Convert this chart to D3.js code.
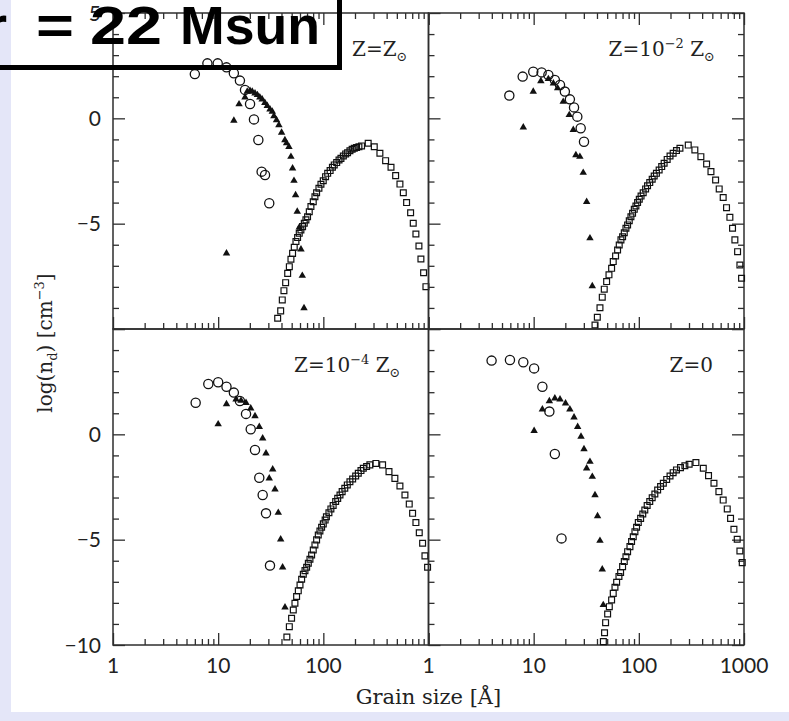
<!DOCTYPE html>
<html>
<head>
<meta charset="utf-8">
<script src="https://cdn.jsdelivr.net/npm/d3@7"></script>
<style>
  html, body { margin: 0; padding: 0; background: #fff; }
  svg { display: block; }
</style>
</head>
<body>
<svg id="chart" width="789" height="721"></svg>
<script>
// Grain size distributions [grain radius in Å, log(n_d) in cm^-3]
// Z = Z_sun
const solarCircles = [[6.0,2.10],[7.9,2.61],[9.9,2.61],[12.0,2.42],[14.1,2.14],[16.1,1.79],[18.0,1.35],[20.1,0.68],[21.9,-0.05],[24.1,-1.03],[25.9,-2.53],[27.9,-2.69],[30.6,-4.03]];
const solarTriangles = [[12.0,-6.41],[14.1,-0.11],[15.8,0.67],[18.0,1.00],[18.9,1.27],[20.1,1.31],[21.1,1.27],[22.4,1.19],[23.6,1.11],[24.9,1.00],[26.2,0.90],[27.8,0.74],[29.3,0.59],[31.1,0.43],[32.7,0.32],[33.9,0.11],[35.9,-0.08],[37.8,-0.32],[40.1,-0.68],[43.1,-1.03],[44.7,-1.18],[47.1,-1.35],[49.2,-1.82],[51.0,-2.37],[52.6,-2.96],[54.5,-3.64],[56.5,-4.43],[59.1,-5.17],[61.3,-6.22],[63.1,-7.47],[65.5,-9.01]];
const solarSquares = [[36.8,-9.49],[39.3,-9.14],[40.7,-8.62],[42.2,-8.18],[43.8,-7.80],[45.8,-7.36],[47.5,-7.04],[49.2,-6.69],[51.0,-6.41],[52.9,-6.12],[54.9,-5.85],[56.9,-5.66],[59.0,-5.46],[61.2,-5.30],[63.5,-5.14],[65.9,-4.98],[68.3,-4.82],[70.8,-4.67],[73.5,-4.43],[76.2,-4.19],[80.2,-3.96],[83.2,-3.72],[86.3,-3.53],[90.8,-3.32],[94.9,-3.13],[99.8,-2.96],[105,-2.77],[110,-2.61],[116,-2.48],[122,-2.32],[127,-2.21],[134,-2.10],[141,-1.98],[147,-1.90],[155,-1.79],[163,-1.69],[170,-1.63],[179,-1.54],[188,-1.47],[197,-1.42],[207,-1.38],[218,-1.35],[231,-1.31],[267,-1.18],[305,-1.35],[345,-1.66],[391,-2.01],[440,-2.32],[487,-2.72],[535,-3.12],[576,-3.53],[619,-4.00],[676,-4.48],[716,-4.98],[759,-5.49],[811,-6.06],[847,-6.68],[898,-7.33],[945,-7.99]];

// Z = 1e-2 Z_sun
const z2Circles = [[5.87,1.08],[7.86,1.98],[9.91,2.21],[11.9,2.18],[13.8,2.06],[15.9,1.82],[17.8,1.58],[19.8,1.27],[22.1,0.90],[24.2,0.52],[26.0,0.08],[28.0,-0.47],[30.1,-1.11]];
const z2Triangles = [[7.97,-0.43],[9.91,1.27],[11.7,1.77],[13.8,1.87],[15.4,1.66],[16.9,1.43],[19.1,0.79],[21.8,0.16],[23.8,-0.55],[25.2,-1.74],[27.5,-1.82],[29.6,-2.58],[31.9,-3.96],[34.3,-5.69],[36.1,-7.96]];
const z2Squares = [[38.3,-9.81],[40.3,-9.44],[42.7,-8.99],[44.9,-8.49],[46.9,-8.11],[49.4,-7.75],[52.0,-7.43],[55.1,-7.12],[57.1,-6.80],[60.1,-6.53],[62.8,-6.25],[65.1,-6.01],[67.6,-5.77],[70.1,-5.62],[72.7,-5.43],[75.4,-5.22],[78.2,-5.06],[81.1,-4.86],[84.1,-4.67],[87.2,-4.51],[90.5,-4.32],[93.8,-4.16],[97.3,-4.00],[101,-3.84],[105,-3.69],[110,-3.53],[116,-3.35],[121,-3.20],[127,-3.05],[134,-2.89],[140,-2.74],[147,-2.61],[156,-2.45],[165,-2.29],[174,-2.13],[186,-1.95],[198,-1.79],[212,-1.66],[228,-1.53],[246,-1.42],[295,-1.27],[341,-1.50],[389,-1.82],[441,-2.17],[485,-2.53],[537,-2.93],[581,-3.35],[634,-3.76],[682,-4.24],[734,-4.70],[778,-5.22],[819,-5.77],[869,-6.33],[914,-6.96],[948,-7.59]];

// Z = 1e-4 Z_sun
const z4Circles = [[6.11,1.50],[8.06,2.39],[10.0,2.47],[12.0,2.26],[14.1,1.98],[16.1,1.58],[18.4,0.97],[20.4,0.24],[22.4,-0.74],[24.6,-2.06],[26.5,-2.88],[28.5,-3.75],[31.1,-6.23]];
const z4Triangles = [[10.0,0.48],[12.0,1.44],[14.8,1.66],[16.5,1.60],[18.4,1.50],[20.4,1.23],[22.4,0.87],[24.6,0.36],[26.5,-0.19],[28.5,-0.90],[33.0,-1.66],[30.6,-2.09],[34.7,-2.61],[37.3,-3.72],[39.3,-4.98],[41.0,-6.31],[43.2,-8.21]];
const z4Squares = [[45.0,-9.62],[47.5,-9.13],[49.9,-8.73],[51.8,-8.34],[53.7,-8.02],[55.7,-7.70],[57.8,-7.43],[60.0,-7.15],[62.2,-6.88],[64.5,-6.64],[66.9,-6.47],[69.4,-6.31],[72.0,-6.12],[74.6,-5.93],[77.4,-5.73],[80.2,-5.49],[83.2,-5.25],[86.3,-5.01],[89.5,-4.78],[92.8,-4.59],[96.3,-4.41],[99.9,-4.25],[104,-4.07],[107,-3.91],[113,-3.72],[118,-3.54],[124,-3.38],[131,-3.19],[137,-3.04],[144,-2.88],[151,-2.72],[160,-2.56],[169,-2.40],[179,-2.25],[190,-2.12],[203,-1.98],[215,-1.85],[228,-1.72],[240,-1.61],[258,-1.53],[277,-1.45],[316,-1.38],[366,-1.45],[421,-1.77],[479,-2.09],[535,-2.45],[597,-2.88],[656,-3.31],[706,-3.75],[759,-4.19],[817,-4.67],[879,-5.17],[925,-5.77],[980,-6.31]];

// Z = 0
const z0Circles = [[3.98,3.50],[5.95,3.53],[7.97,3.42],[10.1,3.13],[12.1,2.26],[14.1,1.08],[15.9,-0.93],[18.4,-4.94]];
const z0Triangles = [[10.1,0.17],[12.1,1.19],[14.1,1.58],[15.9,1.71],[17.8,1.66],[20.1,1.47],[22.1,1.19],[24.2,0.81],[26.2,0.36],[28.2,-0.11],[30.1,-0.70],[31.9,-1.61],[34.3,-1.30],[36.1,-2.01],[38.3,-2.88],[40.5,-3.88],[42.7,-5.05],[44.9,-6.41],[45.9,-8.10]];
const z0Squares = [[46.0,-9.84],[47.2,-9.42],[48.3,-8.94],[50.5,-8.53],[52.4,-8.18],[55.1,-7.86],[57.1,-7.55],[59.3,-7.26],[61.5,-7.02],[64.7,-6.75],[67.1,-6.56],[70.1,-6.28],[72.7,-6.04],[75.4,-5.81],[78.2,-5.57],[82.3,-5.33],[85.3,-5.09],[88.5,-4.86],[91.8,-4.62],[95.2,-4.41],[98.8,-4.19],[104,-3.99],[109,-3.78],[114,-3.59],[120,-3.38],[127,-3.19],[134,-3.01],[142,-2.83],[151,-2.64],[161,-2.48],[171,-2.32],[184,-2.14],[198,-1.98],[212,-1.82],[228,-1.69],[249,-1.58],[274,-1.49],[301,-1.42],[349,-1.34],[410,-1.61],[460,-1.96],[518,-2.32],[577,-2.72],[634,-3.12],[693,-3.54],[745,-3.99],[802,-4.51],[862,-4.98],[914,-5.54],[962,-6.09]];

// Axis ranges and tick labels
const xDomain = [1, 1000];
const yDomain = [-10, 5];
const xTickMajor = [1, 10, 100, 1000];
const yTickMajor = [-10, -5, 0, 5];
const topYLabels = [5, 0, -5];
const bottomYLabels = [0, -5, -10];
const leftXLabels = [1, 10, 100];
const rightXLabels = [1, 10, 100, 1000];

// Minor ticks: 2..9 in every decade, every integer in log(n_d)
const xTickMinor = [];
[1, 10, 100].forEach(d => { for (let m = 2; m <= 9; m++) xTickMinor.push(m * d); });
const yTickMinor = d3.range(-10, 6).filter(v => v % 5 !== 0);

const W = 789, H = 721;
const L = 113, MX = 428.5, R = 744, T = 13, MY = 329, B = 645;
const ink = '#111';
const axisInk = '#2e2e2e';
const serif = '"DejaVu Serif", "Liberation Serif", serif';
const sans = 'Lato, "Open Sans", "Liberation Sans", sans-serif';

const svg = d3.select('#chart');
svg.append('rect').attr('width', W).attr('height', H).attr('fill', '#fff');
svg.append('rect').attr('x', 0).attr('y', 0).attr('width', 11).attr('height', H).attr('fill', '#e4e6f8');
svg.append('rect').attr('x', 0).attr('y', 712).attr('width', W).attr('height', H - 712).attr('fill', '#e4e6f8');

const fmt = d => d < 0 ? '\u2212' + Math.abs(d) : String(d);

const panels = [
  { col: 0, row: 0, circles: solarCircles, tris: solarTriangles, squares: solarSquares, inset: 21,
    label: [['Z=Z', 'base'], ['\u2299', 'sub']], yLabels: topYLabels, xLabels: [] },
  { col: 1, row: 0, circles: z2Circles, tris: z2Triangles, squares: z2Squares, inset: 29,
    label: [['Z=10', 'base'], ['\u22122', 'sup'], ['\u00a0Z', 'base'], ['\u2299', 'sub']], yLabels: [], xLabels: [] },
  { col: 0, row: 1, circles: z4Circles, tris: z4Triangles, squares: z4Squares, inset: 28,
    label: [['Z=10', 'base'], ['\u22124', 'sup'], ['\u00a0Z', 'base'], ['\u2299', 'sub']], yLabels: bottomYLabels, xLabels: leftXLabels },
  { col: 1, row: 1, circles: z0Circles, tris: z0Triangles, squares: z0Squares, inset: 31,
    label: [['Z=0', 'base']], yLabels: [], xLabels: rightXLabels }
];

function tickSet(g, axisFn, scale, values, size, transform) {
  const a = g.append('g').attr('transform', transform)
    .call(axisFn(scale).tickValues(values).tickSizeInner(-size).tickSizeOuter(0).tickFormat(''));
  a.select('.domain').remove();
  a.selectAll('text').remove();
  a.selectAll('line').attr('stroke', axisInk).attr('stroke-width', 1.3);
}

panels.forEach(p => {
  const x0 = p.col ? MX : L, x1 = p.col ? R : MX;
  const y0 = p.row ? MY : T, y1 = p.row ? B : MY;
  const x = d3.scaleLog().domain(xDomain).range([x0, x1]);
  const y = d3.scaleLinear().domain(yDomain).range([y1, y0]);
  const g = svg.append('g');

  // inward ticks: left and bottom always, top on the upper row, right on the right column
  tickSet(g, d3.axisBottom, x, xTickMajor, 12, `translate(0,${y1})`);
  tickSet(g, d3.axisBottom, x, xTickMinor, 6, `translate(0,${y1})`);
  tickSet(g, d3.axisLeft, y, yTickMajor, 12, `translate(${x0},0)`);
  tickSet(g, d3.axisLeft, y, yTickMinor, 6, `translate(${x0},0)`);
  if (p.row === 0) {
    tickSet(g, d3.axisTop, x, xTickMajor, 12, `translate(0,${y0})`);
    tickSet(g, d3.axisTop, x, xTickMinor, 6, `translate(0,${y0})`);
  }
  if (p.col === 1) {
    tickSet(g, d3.axisRight, y, yTickMajor, 12, `translate(${x1},0)`);
    tickSet(g, d3.axisRight, y, yTickMinor, 6, `translate(${x1},0)`);
  }

  g.append('rect').attr('x', x0).attr('y', y0).attr('width', x1 - x0).attr('height', y1 - y0)
    .attr('fill', 'none').attr('stroke', axisInk).attr('stroke-width', 1.5);

  // tick labels
  g.selectAll('.ylab').data(p.yLabels).join('text')
    .attr('x', x0 - 12).attr('y', d => y(d)).attr('dy', '0.36em')
    .attr('text-anchor', 'end').attr('font-family', sans).attr('font-size', 21)
    .attr('fill', '#222').text(fmt);
  g.selectAll('.xlab').data(p.xLabels).join('text')
    .attr('x', d => x(d)).attr('y', y1 + 28)
    .attr('text-anchor', 'middle').attr('font-family', sans).attr('font-size', 21)
    .attr('fill', '#222').text(fmt);

  // markers
  g.selectAll('.sq').data(p.squares).join('path')
    .attr('transform', d => `translate(${x(d[0])},${y(d[1])})`)
    .attr('d', d3.symbol(d3.symbolSquare, 34))
    .attr('fill', 'none').attr('stroke', ink).attr('stroke-width', 1.2);
  g.selectAll('.tri').data(p.tris).join('path')
    .attr('transform', d => `translate(${x(d[0])},${y(d[1])})`)
    .attr('d', d3.symbol(d3.symbolTriangle, 24))
    .attr('fill', ink);
  g.selectAll('.circ').data(p.circles).join('circle')
    .attr('cx', d => x(d[0])).attr('cy', d => y(d[1])).attr('r', 4.6)
    .attr('fill', 'none').attr('stroke', ink).attr('stroke-width', 1.3);

  // metallicity label
  const t = g.append('text').attr('x', x1 - p.inset).attr('y', y0 + 43)
    .attr('text-anchor', 'end').attr('font-family', serif).attr('font-size', 20).attr('fill', '#222');
  let shift = 0;
  p.label.forEach(([s, kind]) => {
    const target = kind === 'sup' ? -8 : kind === 'sub' ? 5 : 0;
    t.append('tspan').attr('dy', target - shift)
      .attr('font-size', kind === 'base' ? 20 : 13).text(s);
    shift = target;
  });
});

// axis titles
svg.append('text').attr('x', (L + R) / 2).attr('y', 704).attr('text-anchor', 'middle')
  .attr('font-family', serif).attr('font-size', 21).attr('fill', '#222').text('Grain size [\u00c5]');
const yt = svg.append('text').attr('transform', `translate(52,343) rotate(-90)`)
  .attr('text-anchor', 'middle').attr('font-family', serif).attr('font-size', 20).attr('fill', '#222');
yt.append('tspan').text('log(n');
yt.append('tspan').attr('dy', 5).attr('font-size', 13).text('d');
yt.append('tspan').attr('dy', -5).text(') [cm');
yt.append('tspan').attr('dy', -8).attr('font-size', 13).text('\u22123');
yt.append('tspan').attr('dy', 8).text(']');

// progenitor mass caption box
svg.append('rect').attr('x', -10).attr('y', -10).attr('width', 349.5).attr('height', 77.5)
  .attr('fill', 'none').attr('stroke', '#000').attr('stroke-width', 5);
const cap = svg.append('g').attr('font-family', '"Liberation Sans", Arial, sans-serif')
  .attr('font-weight', 'bold').attr('font-size', 54).attr('fill', '#000');
cap.append('text').attr('x', -14).attr('y', 44).text('r');
cap.append('text').attr('x', 36).attr('y', 44).attr('textLength', 38).attr('lengthAdjust', 'spacingAndGlyphs').text('=');
cap.append('text').attr('x', 90).attr('y', 44).attr('textLength', 72).attr('lengthAdjust', 'spacingAndGlyphs').text('22');
cap.append('text').attr('x', 180).attr('y', 44).attr('textLength', 140).attr('lengthAdjust', 'spacingAndGlyphs').text('Msun');
</script>
</body>
</html>
